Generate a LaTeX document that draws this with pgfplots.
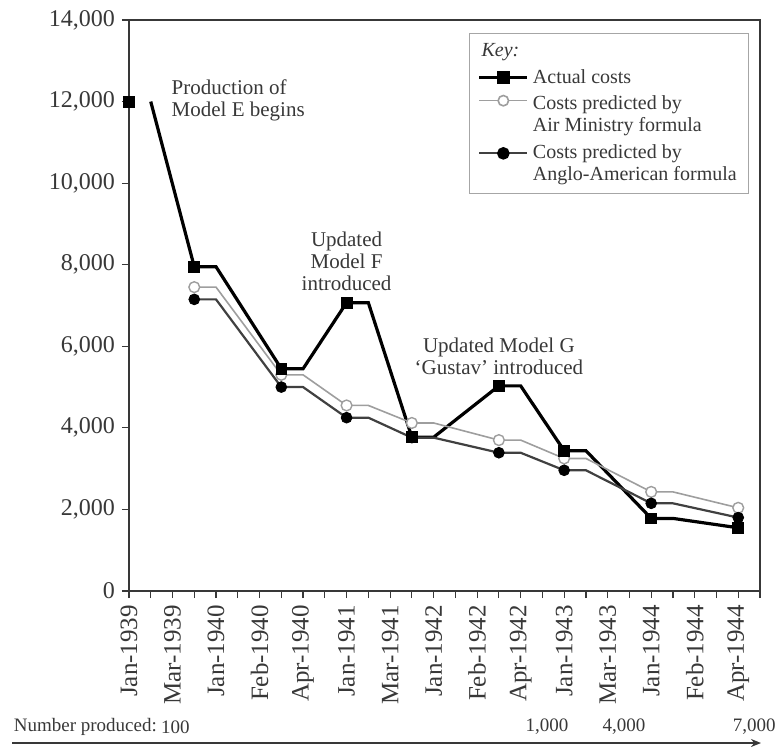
\documentclass[border=0pt]{standalone}
\usepackage{fontspec}
\setmainfont{Liberation Serif}
\usepackage{pgfplots}
\pgfplotsset{compat=1.18}
\usetikzlibrary{arrows.meta}
\definecolor{ink}{gray}{0.22}
\definecolor{amcol}{gray}{0.62}
\definecolor{aacol}{gray}{0.25}

\begin{document}
\begin{tikzpicture}[x=1pt,y=1pt]
\useasboundingbox (-64.5,-77.5) rectangle (324,295.5);
\begin{axis}[
    at={(0,0)}, anchor=south west,
    scale only axis, width=315.5pt, height=285.5pt,
    xmin=0, xmax=14.5, ymin=0, ymax=14000,
    xtick={0,...,14},
    xticklabels={Jan-1939,Mar-1939,Jan-1940,Feb-1940,Apr-1940,Jan-1941,Mar-1941,
                 Jan-1942,Feb-1942,Apr-1942,Jan-1943,Mar-1943,Jan-1944,Feb-1944,Apr-1944},
    minor xtick={0.5,1.5,...,14.5},
    ytick={0,2000,...,14000},
    tick align=outside, xtick pos=bottom, ytick pos=left,
    major tick length=3.5pt, minor tick length=3.5pt,
    axis line style={ink, line width=0.7pt},
    every tick/.style={ink, line width=0.6pt},
    x tick label style={rotate=90, anchor=east, font=\fontsize{12.5}{13}\selectfont, text=ink},
    y tick label style={font=\fontsize{12}{13}\selectfont, text=ink},
    /pgf/number format/1000 sep={,},
    /pgf/number format/assume math mode=true,
    scaled y ticks=false,
    clip=false,
    legend image code/.code={
        \draw[mark repeat=2, mark phase=2, #1]
            plot coordinates {(0pt,0pt) (12pt,0pt) (24pt,0pt)};
    },
    legend cell align=left,
    legend style={
        at={(0.983,0.978)}, anchor=north east,
        draw=gray!70, line width=0.5pt,
        font=\fontsize{10}{11}\selectfont, text=ink,
        cells={align=left},
        inner xsep=4pt, inner ysep=3pt, row sep=1pt
    },
]

% actual costs
\addplot[black, line width=1.6pt, forget plot] coordinates {
    (0.5,12000) (1.5,7950) (2,7950) (3.5,5450) (4,5450) (5,7070) (5.5,7070)
    (6.5,3770) (7,3770) (8.5,5030) (9,5030) (10,3440) (10.5,3440)
    (12,1780) (12.5,1780) (14,1550)
};
% air ministry formula
\addplot[amcol, line width=0.8pt, forget plot] coordinates {
    (1.5,7450) (2,7450) (3.5,5300) (4,5300) (5,4550) (5.5,4550)
    (6.5,4120) (7,4120) (8.5,3700) (9,3700) (10,3250) (10.5,3250)
    (12,2430) (12.5,2430) (14,2040)
};
% anglo-american formula
\addplot[aacol, line width=1.1pt, forget plot] coordinates {
    (1.5,7150) (2,7150) (3.5,5000) (4,5000) (5,4250) (5.5,4250)
    (6.5,3760) (7,3760) (8.5,3390) (9,3390) (10,2960) (10.5,2960)
    (12,2150) (12.5,2150) (14,1800)
};

\addplot[only marks, mark=*, mark size=2.7pt, mark options={fill=white, draw=amcol, line width=0.7pt}, forget plot]
    coordinates {(1.5,7450) (3.5,5300) (5,4550) (6.5,4120) (8.5,3700) (10,3250) (12,2430) (14,2040)};
\addplot[only marks, mark=*, mark size=2.7pt, mark options={fill=black, draw=black}, forget plot]
    coordinates {(1.5,7150) (3.5,5000) (5,4250) (6.5,3760) (8.5,3390) (10,2960) (12,2150) (14,1800)};
\addplot[only marks, mark=square*, mark size=2.7pt, mark options={fill=black, draw=black}, forget plot]
    coordinates {(0,12000) (1.5,7950) (3.5,5450) (5,7070) (6.5,3770) (8.5,5030) (10,3440) (12,1780) (14,1550)};

\addlegendimage{empty legend}
\addlegendentry{\hspace*{-29.5pt}\textit{Key:}}
\addlegendimage{black, line width=1.6pt, mark=square*, mark size=2.6pt, mark options={solid}}
\addlegendentry{Actual costs}
\addlegendimage{amcol, line width=0.8pt, mark=*, mark size=2.6pt, mark options={fill=white, draw=amcol}, yshift=7.4pt}
\addlegendentry{Costs predicted by\\Air Ministry formula\rule[-6pt]{0pt}{6pt}}
\addlegendimage{aacol, line width=1.1pt, mark=*, mark size=2.6pt, mark options={fill=black, draw=black}, yshift=5.5pt}
\addlegendentry{Costs predicted by\\Anglo-American formula}

\node[anchor=west, align=left, font=\fontsize{10.5}{11}\selectfont, text=ink]
    at (axis cs:0.82,12040) {Production of\\Model E begins};
\node[align=center, font=\fontsize{10.5}{11}\selectfont, text=ink]
    at (axis cs:5,8090) {Updated\\Model F\\introduced};
\node[align=center, font=\fontsize{10.5}{11}\selectfont, text=ink]
    at (axis cs:8.5,5765) {Updated Model G\\‘Gustav’ introduced};
\end{axis}

\node[anchor=west, inner sep=0pt, font=\fontsize{9.5}{10}\selectfont, text=ink] at (-57.75,-68) {Number produced:};
\node[inner sep=0pt, font=\fontsize{9.5}{10}\selectfont, text=ink] at (23.25,-68) {100};
\node[inner sep=0pt, font=\fontsize{9.5}{10}\selectfont, text=ink] at (209,-68) {1,000};
\node[inner sep=0pt, font=\fontsize{9.5}{10}\selectfont, text=ink] at (247.5,-68) {4,000};
\node[anchor=east, inner sep=0pt, font=\fontsize{9.5}{10}\selectfont, text=ink] at (323.5,-68) {7,000};
\draw[ink, line width=1pt, -{Stealth[length=5pt, width=4pt]}] (-58.25,-76) -- (316,-76);
\end{tikzpicture}
\end{document}
